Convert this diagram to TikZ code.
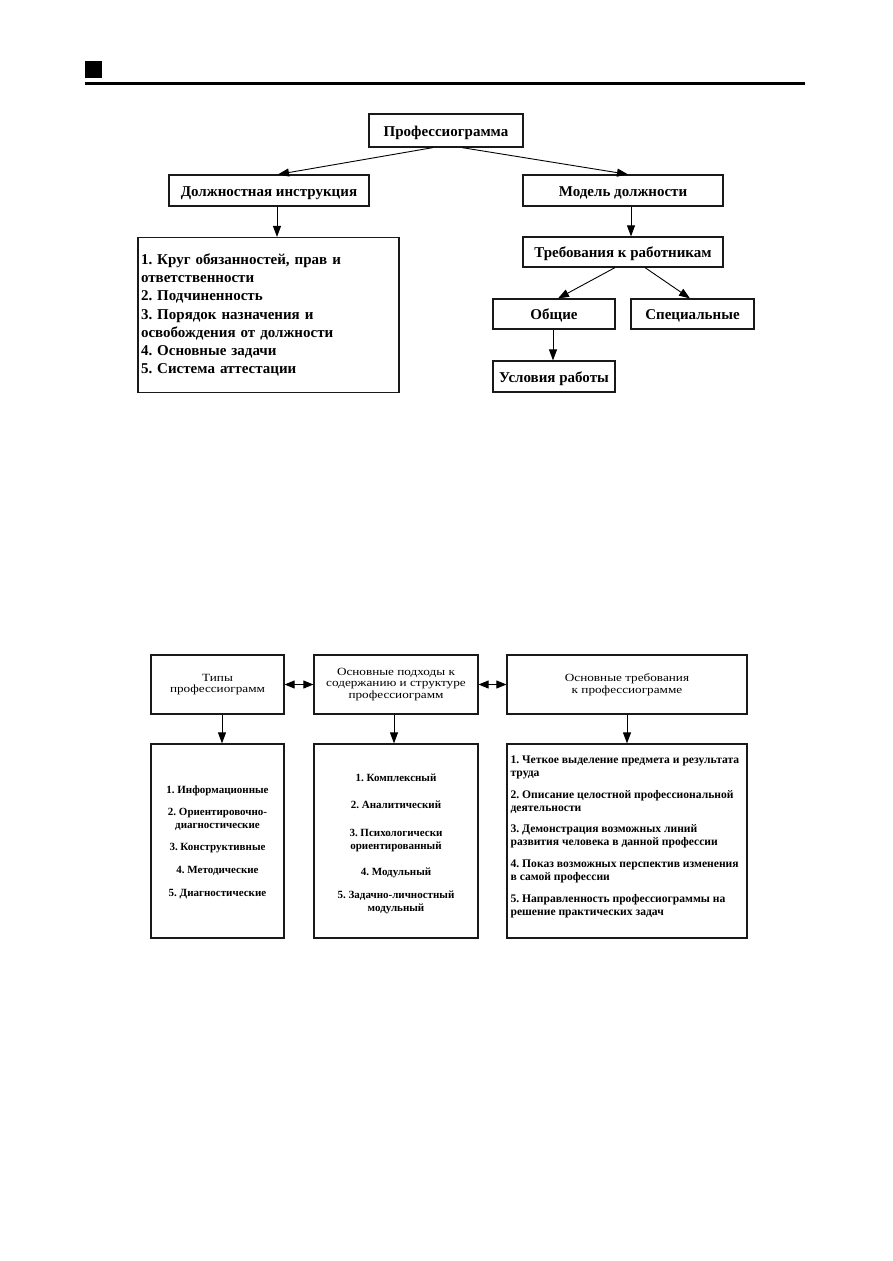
\documentclass[tikz,border=0pt]{standalone}
\usepackage{fontspec}
\setmainfont{Liberation Serif}
\newfontfamily\widefont[FakeStretch=1.2]{Liberation Serif}
\usetikzlibrary{arrows.meta,calc}
\begin{document}
\frenchspacing
\begin{tikzpicture}[x=1pt,y=-1pt,
  box/.style={draw=black!90,line width=1.2pt,inner sep=0pt},
  tbox/.style={box,text height=12pt,text depth=1pt,font=\frenchspacing\fontsize{15}{18}\selectfont\bfseries},
  hbox/.style={box,align=center,font=\frenchspacing\widefont\fontsize{11}{11.5}\selectfont},
  arr/.style={-{Triangle[length=11pt,width=8pt]},line width=0.9pt},
  dbl/.style={{Triangle[length=10pt,width=8pt]}-{Triangle[length=10pt,width=8pt]},line width=0.9pt},
  ltext/.style={inner sep=0pt,font=\frenchspacing\fontsize{11}{13}\selectfont\bfseries}
]
\fill[white] (0,0) rectangle (892,1261);
\useasboundingbox (0,0) rectangle (892,1261);

% header
\fill (85,61) rectangle (101.7,77.7);
\fill (85,82) rectangle (805,84.8);

% ---------- top diagram ----------
\node[tbox,minimum width=154pt,minimum height=33pt] (prof) at (446,130.5) {Профессиограмма};
\node[tbox,minimum width=200pt,minimum height=31pt] (dol) at (269,190.5) {Должностная инструкция};
\node[tbox,minimum width=200pt,minimum height=31pt] (mod) at (623,190.5) {Модель должности};
\node[box,minimum width=261pt,minimum height=155pt,text width=255pt,align=left,
      font=\frenchspacing\fontsize{15}{18.3}\selectfont\bfseries] (list) at (268.5,315)
  {1. Круг обязанностей, прав и\\ответственности\\2. Подчиненность\\3. Порядок назначения и\\освобождения от должности\\4. Основные задачи\\5. Система аттестации};
\node[tbox,minimum width=200pt,minimum height=30pt] (treb) at (623,252) {Требования к работникам};
\node[tbox,minimum width=122pt,minimum height=30pt] (obsh) at (554,314) {Общие};
\node[tbox,minimum width=123pt,minimum height=30pt] (spec) at (692.5,314) {Специальные};
\node[tbox,minimum width=122pt,minimum height=31pt] (usl) at (554,376.5) {Условия работы};

\draw[arr] ([xshift=-13pt]prof.south) -- ([xshift=9pt]dol.north);
\draw[arr] ([xshift=16pt]prof.south) -- ([xshift=5pt]mod.north);
\draw[arr] ([xshift=8pt]dol.south) -- ([xshift=8pt]dol.south |- list.north);
\draw[arr] ([xshift=8pt]mod.south) -- ([xshift=8pt]mod.south |- treb.north);
\draw[arr] ([xshift=-8pt]treb.south) -- ([xshift=4pt]obsh.north);
\draw[arr] ([xshift=22pt]treb.south) -- ([xshift=-2.5pt]spec.north);
\draw[arr] ([xshift=-1pt]obsh.south) -- ([xshift=-1pt]usl.north);

% ---------- bottom diagram ----------
\node[hbox,minimum width=133pt,minimum height=59pt] (typ) at (217.5,684.5) {Типы\\профессиограмм};
\node[hbox,minimum width=164pt,minimum height=59pt] (pod) at (396,684.5) {Основные подходы к\\содержанию и структуре\\профессиограмм};
\node[hbox,minimum width=240pt,minimum height=59pt] (treq) at (627,684.5) {Основные требования\\к профессиограмме};

\node[box,minimum width=133pt,minimum height=194pt] (typl) at (217.5,841) {};
\node[box,minimum width=164pt,minimum height=194pt] (podl) at (396,841) {};
\node[box,minimum width=240pt,minimum height=194pt] (treql) at (627,841) {};

\node[ltext,align=center,anchor=north] (typt) at ([yshift=-42pt]typl.north)
  {1. Информационные\\[9pt]2. Ориентировочно-\\диагностические\\[9.5pt]3. Конструктивные\\[10pt]4. Методические\\[10pt]5. Диагностические};
\node[ltext,align=center,anchor=north] (podt) at ([yshift=-30pt]podl.north)
  {1. Комплексный\\[14pt]2. Аналитический\\[15pt]3. Психологически\\ориентированный\\[13pt]4. Модульный\\[10pt]5. Задачно-личностный\\модульный};
\node[ltext,align=left,anchor=north west,font=\frenchspacing\fontsize{11.6}{13}\selectfont\bfseries] (treqt) at ([xshift=4pt,yshift=-12pt]treql.north west)
  {1. Четкое выделение предмета и результата\\труда\\[9pt]2. Описание целостной профессиональной\\деятельности\\[8pt]3. Демонстрация возможных линий\\развития человека в данной профессии\\[9pt]4. Показ возможных перспектив изменения\\в самой профессии\\[9pt]5. Направленность профессиограммы на\\решение практических задач};

\draw[dbl] (typ.east) -- (pod.west);
\draw[dbl] (pod.east) -- (treq.west);
\draw[arr] ([xshift=4.5pt]typ.south) -- ([xshift=4.5pt]typl.north);
\draw[arr] ([xshift=-2pt]pod.south) -- ([xshift=-2pt]podl.north);
\draw[arr] (treq.south) -- (treql.north);
\end{tikzpicture}
\end{document}
